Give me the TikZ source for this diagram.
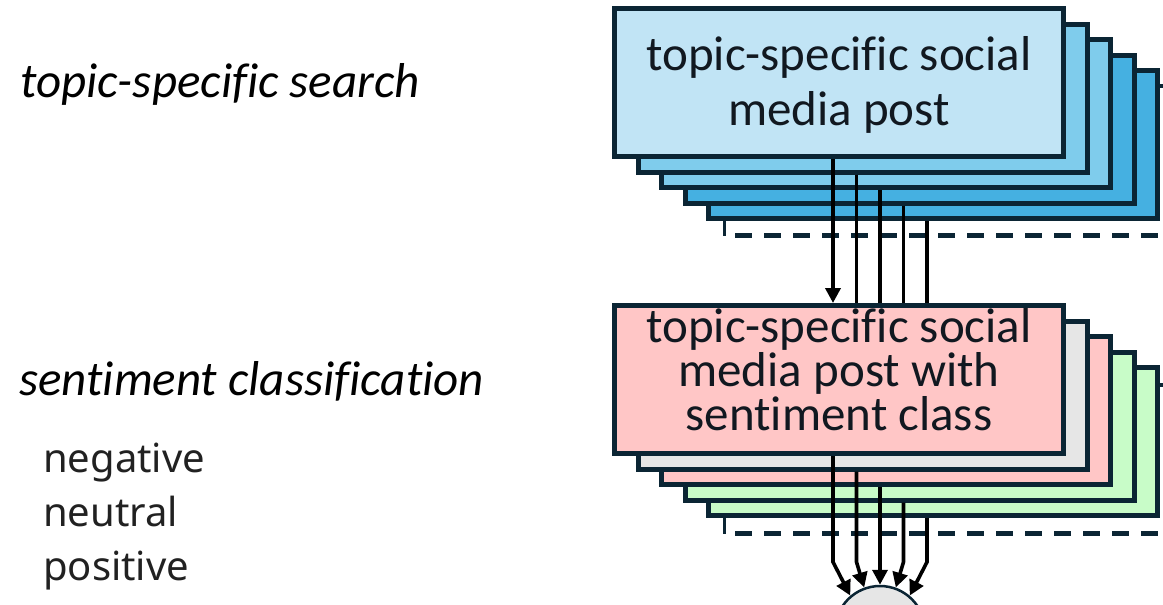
\documentclass[tikz,border=0pt]{standalone}
\usepackage{fontspec}
\setmainfont{Carlito}[Ligatures=NoCommon]
\newfontfamily\notosans{Noto Sans}
\usetikzlibrary{arrows.meta,calc}
\definecolor{navy}{HTML}{0B2534}
\definecolor{ink}{HTML}{111820}
\definecolor{blueA}{HTML}{C1E4F5}
\definecolor{blueB}{HTML}{7FCCEC}
\definecolor{blueC}{HTML}{45B0E1}
\definecolor{pinkA}{HTML}{FFC6C6}
\definecolor{greyA}{HTML}{E6E6E6}
\definecolor{greenA}{HTML}{C8FCC8}
\begin{document}
\begin{tikzpicture}[x=1pt,y=-1pt,
  card/.style={draw=navy,line width=5pt,minimum width=449pt,minimum height=148pt,inner sep=0pt},
  flow/.style={draw=black,line width=3.6pt},
  tip/.style={-{Triangle[length=15pt,width=15pt]}},
  boxtext/.style={font=\fontsize{49}{55}\selectfont,align=center,text=ink,inner sep=0pt},
  stagetext/.style={font=\itshape\fontsize{49}{55}\selectfont,text=black,inner sep=0pt},
  classtext/.style={font=\notosans\fontsize{40}{54}\selectfont,text=black!87,align=left,inner sep=0pt},
  moretick/.style={draw=navy,line width=3pt},
  moredash/.style={draw=navy,line width=5pt,dash pattern=on 17pt off 12pt},
]
\useasboundingbox (0,0) rectangle (1163,605);
\clip (0,0) rectangle (1163,605);

% ---- more posts (outline behind the blue stack)
\draw[moretick] (724,221) -- (724,236);
\draw[moredash] (735,235) -- (1163,235);
\draw[draw=navy,line width=4pt] (1158,86) -- (1163,86);

% ---- blue stack
\node[card,fill=blueC] (b4) at (933,144.5) {};
\node[card,fill=blueC] (b3) at (909.5,129) {};
\node[card,fill=blueB] (b2) at (886,113.5) {};
\node[card,fill=blueB] (b1) at (862.5,98) {};
\node[card,fill=blueA] (b0) at (839,82.5) {};
\node[boxtext,anchor=base] (tb) at (839,125) {topic-specific social\\media post};

% ---- more posts (outline behind the pink stack)
\draw[moretick] (724,517) -- (724,534);
\draw[moredash] (735,533) -- (1163,533);
\draw[draw=navy,line width=4pt] (1158,385) -- (1163,385);

% ---- arrows blue -> pink
\coordinate (q0) at ([xshift=-6pt]b0.south);
\coordinate (q1) at ([xshift=-6pt]b1.south);
\coordinate (q2) at ([xshift=-6pt]b2.south);
\coordinate (q3) at ([xshift=-6pt]b3.south);
\coordinate (q4) at ([xshift=-6pt]b4.south);

% pink stack positions (nodes drawn later, over the hidden line ends)
\path (933,441.5) coordinate (c4) (909.5,426) coordinate (c3) (886,410.5) coordinate (c2)
      (862.5,395) coordinate (c1) (839,379.5) coordinate (c0);
\draw[flow] (q1) -- (q1 |- c1);
\draw[flow] (q2) -- (q2 |- c2);
\draw[flow] (q3) -- (q3 |- c3);
\draw[flow] (q4) -- (q4 |- c4);

\node[card,fill=greenA] (p4) at (c4) {};
\node[card,fill=greenA] (p3) at (c3) {};
\node[card,fill=pinkA] (p2) at (c2) {};
\node[card,fill=greyA] (p1) at (c1) {};
\node[card,fill=pinkA] (p0) at (c0) {};
\node[boxtext,anchor=base,font=\fontsize{49}{44}\selectfont] (tp) at (839,430) {topic-specific social\\media post with\\sentiment class};
\draw[flow,tip] (q0) -- (q0 |- p0.north);

% ---- aggregation circle
\node[circle,draw=navy,line width=2.5pt,fill=greyA,minimum size=90pt,inner sep=0pt] (agg) at (880,631) {};
\coordinate (bend) at (0,562);
\coordinate (r0) at ([xshift=-6pt]p0.south);
\coordinate (r1) at ([xshift=-6pt]p1.south);
\coordinate (r2) at ([xshift=-6pt]p2.south);
\coordinate (r3) at ([xshift=-6pt]p3.south);
\coordinate (r4) at ([xshift=-6pt]p4.south);
\draw[flow,tip] (r0) -- (r0 |- bend) -- (agg.130);
\draw[flow,tip] (r1) -- (r1 |- bend) -- (agg.110);
\draw[flow,tip] (r2) -- (agg.north);
\draw[flow,tip] (r3) -- (r3 |- bend) -- (agg.70);
\draw[flow,tip] (r4) -- (r4 |- bend) -- (agg.50);

% ---- left labels
\node[stagetext,anchor=base west] (s1) at (20,97) {topic-specific search};
\node[stagetext,anchor=base west] (s2) at (19,395) {sentiment classification};
\node[classtext,anchor=base west] (cls) at (43,580) {negative\\neutral\\positive};
\end{tikzpicture}
\end{document}
